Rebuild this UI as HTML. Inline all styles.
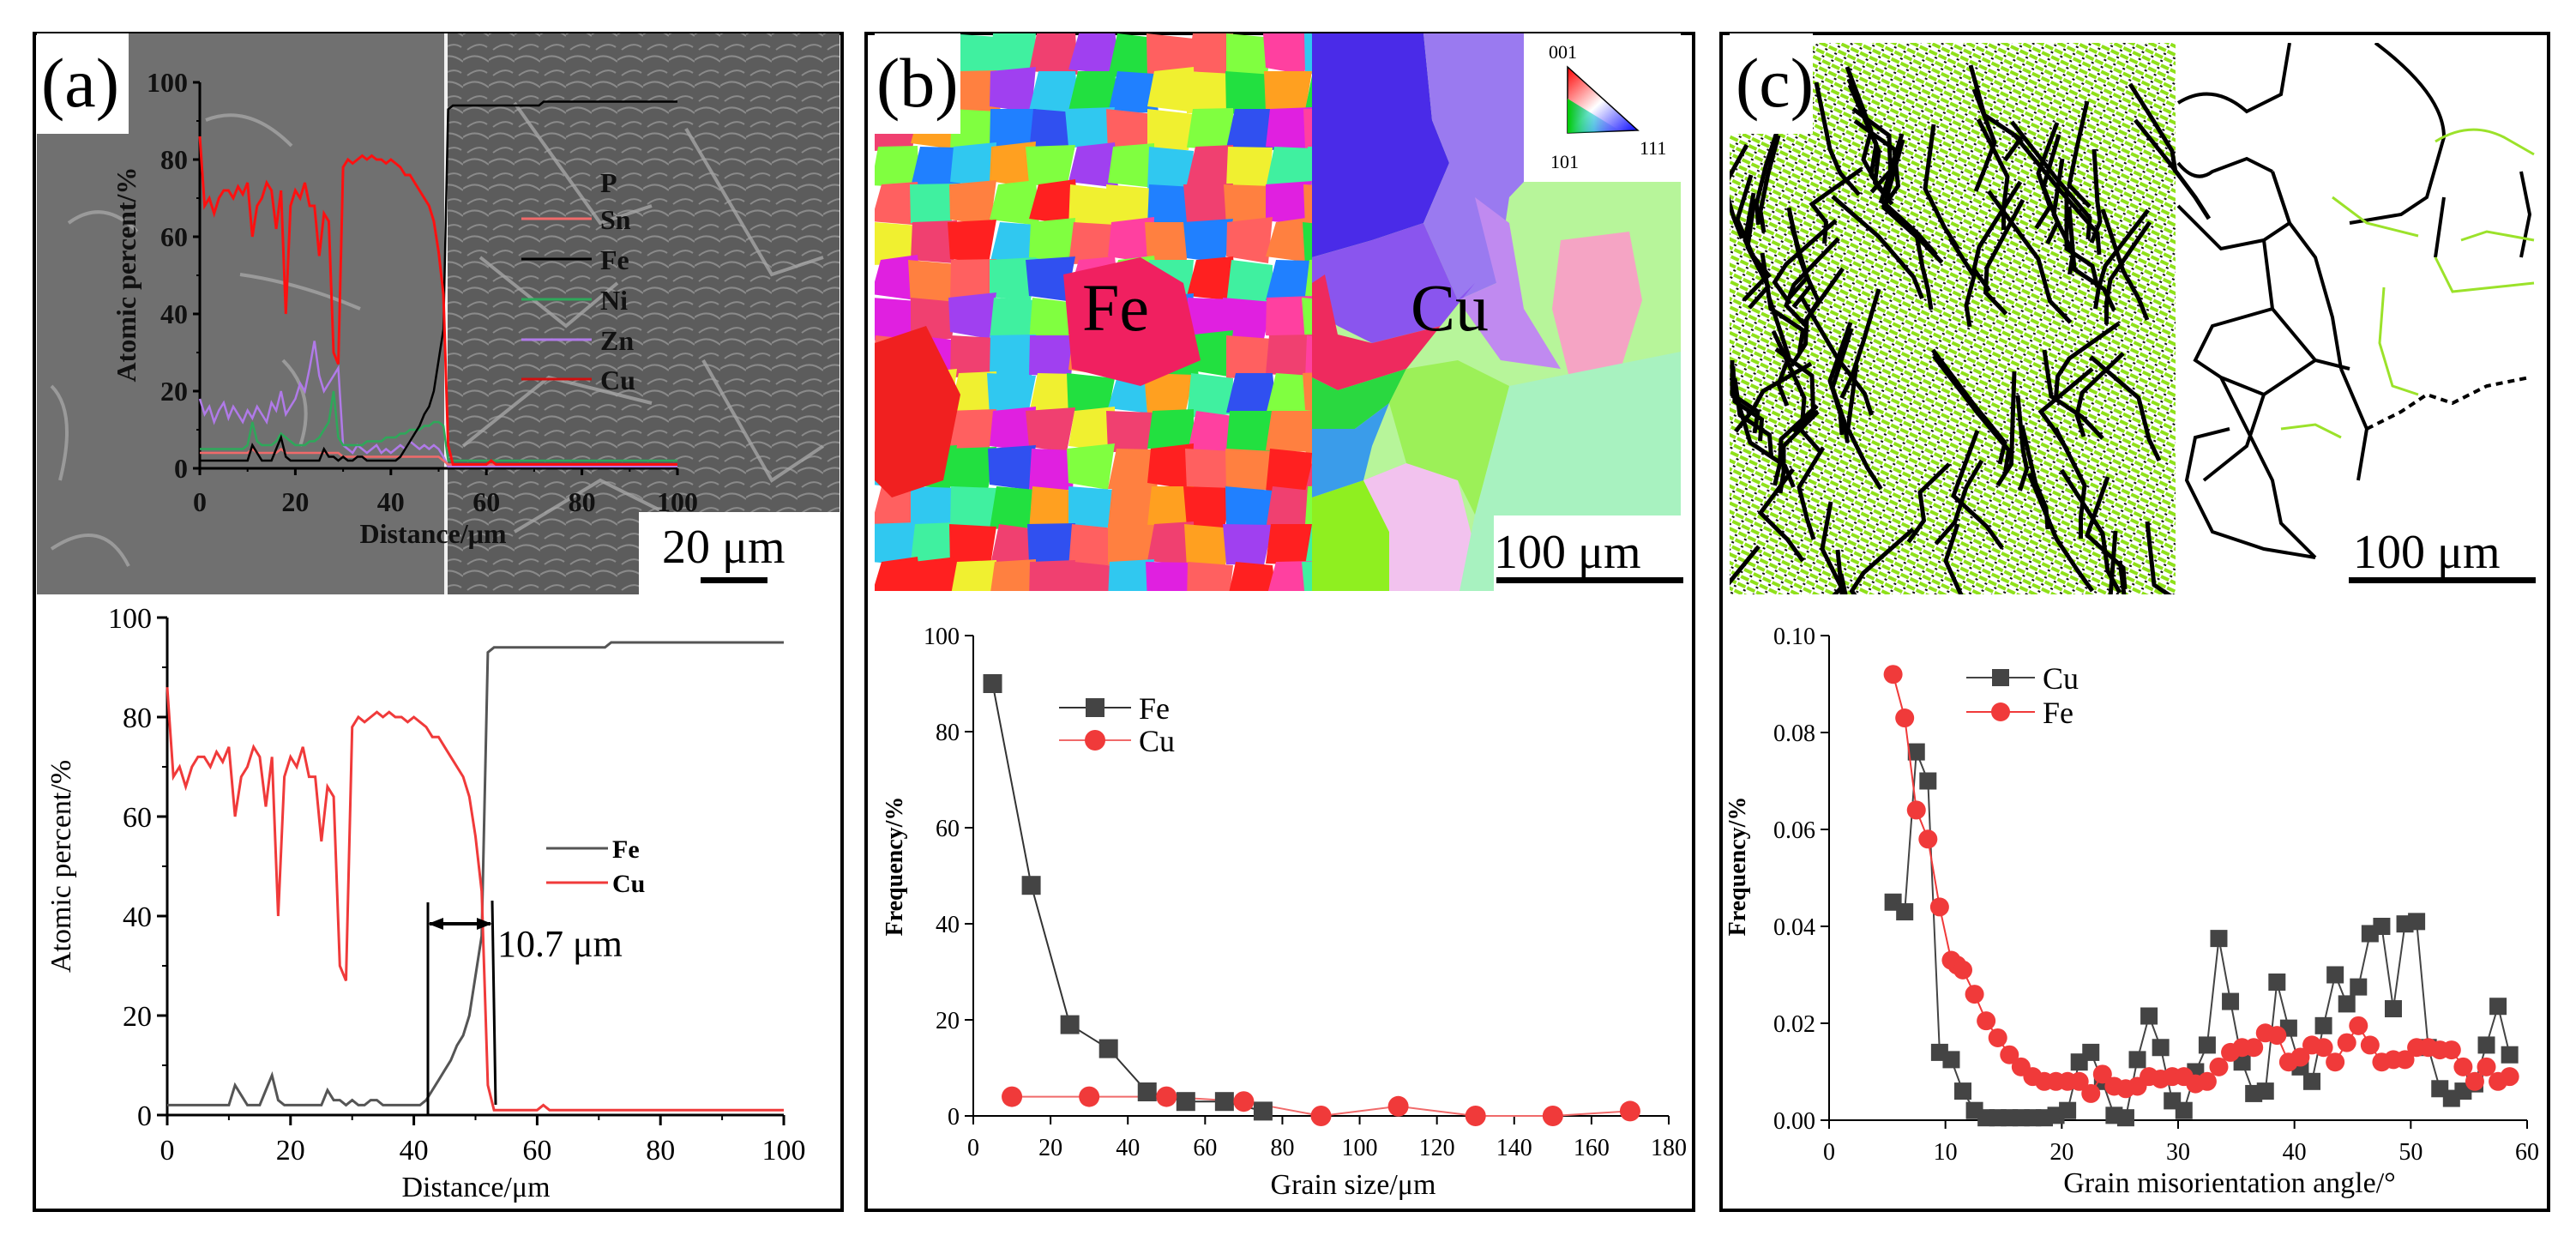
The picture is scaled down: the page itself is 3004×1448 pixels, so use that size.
<!DOCTYPE html>
<html><head><meta charset="utf-8"><style>
body{margin:0;background:#fff}
svg{display:block}
text{font-family:"Liberation Serif",serif}
</style></head><body>
<svg id="fig" width="3004" height="1448" viewBox="0 0 3004 1448" xmlns="http://www.w3.org/2000/svg">
<defs>
<clipPath id="clipA"><path d="M150 39H979V597H745V693H43V156H150Z"/></clipPath>
<clipPath id="clipB"><path d="M1120 39H1777V212H1960V601H1742V689H1020V156H1120Z"/></clipPath>
<clipPath id="clipC"><path d="M2114 50H2960V677H2739V693H2017V156H2114Z"/></clipPath>
<pattern id="greenTex" width="12" height="9" patternUnits="userSpaceOnUse" patternTransform="rotate(25)"><rect width="12" height="9" fill="#fff"/><rect x="0" y="1" width="10" height="4" fill="#8fe01a"/><rect x="9" y="6" width="3" height="2" fill="#111"/></pattern>
<pattern id="semTex" width="30" height="30" patternUnits="userSpaceOnUse"><rect width="30" height="30" fill="#5c5c5c"/><path d="M0 10 Q15 0 30 12 M5 28 Q18 18 28 25" stroke="#8a8a8a" stroke-width="2" fill="none"/></pattern>
<marker id="arrH" markerUnits="userSpaceOnUse" markerWidth="18" markerHeight="14" refX="16" refY="7" orient="auto-start-reverse"><path d="M0 0L18 7L0 14Z" fill="#000"/></marker>
</defs>

<rect x="40" y="39" width="942" height="1372" fill="none" stroke="#000" stroke-width="4"/>
<rect x="1010" y="39" width="965" height="1372" fill="none" stroke="#000" stroke-width="4"/>
<rect x="2007" y="39" width="965" height="1372" fill="none" stroke="#000" stroke-width="4"/>

<g clip-path="url(#clipA)">
<rect x="40" y="39" width="480" height="660" fill="#707070"/>
<rect x="520" y="39" width="460" height="660" fill="url(#semTex)"/>
<g fill="none" stroke="#a5a5a5" stroke-width="4" opacity="0.8">
<path d="M60 450 Q90 480 70 560"/><path d="M80 260 Q120 230 160 270"/><path d="M240 140 Q290 120 340 170"/>
<path d="M280 320 Q350 330 420 360"/><path d="M60 640 Q120 600 150 660"/><path d="M330 420 Q370 460 350 520"/>
<path d="M600 120 L700 260 L760 240"/><path d="M560 300 L660 380 L720 330"/><path d="M800 150 L900 320 L960 300"/>
<path d="M540 520 L640 440 L760 470"/><path d="M820 420 L900 560 L960 520"/><path d="M600 620 L700 560 L780 600"/>
</g>
<rect x="518" y="39" width="4" height="660" fill="#f0f0f0"/>
</g>
<rect x="43" y="39" width="107" height="117" fill="#fff"/>
<text x="48" y="124" font-size="82">(a)</text>
<rect x="745" y="597" width="234" height="96" fill="#fff"/>
<text x="772" y="656" font-size="56">20 μm</text>
<rect x="817" y="673" width="78" height="7" fill="#000"/>
<g id="insetA"></g>

<g clip-path="url(#clipB)">
<g id="ebsdFe"></g>
<rect x="1530" y="39" width="440" height="660" fill="#b7f59a"/>
<polygon points="1530,39 1660,39 1670,140 1690,190 1660,260 1600,280 1530,300" fill="#4a2be8"/>
<polygon points="1660,39 1777,39 1777,212 1760,230 1745,330 1700,350 1660,260 1690,190 1670,140" fill="#9a7af0"/>
<polygon points="1530,300 1600,280 1660,260 1700,350 1720,330 1680,380 1600,400 1560,380 1530,360" fill="#8a55ee"/>
<polygon points="1530,330 1545,320 1560,390 1600,400 1680,380 1640,430 1560,455 1530,440" fill="#ee2a5e"/>
<polygon points="1530,440 1560,455 1640,430 1620,470 1580,500 1530,500" fill="#2ad840"/>
<polygon points="1530,500 1580,500 1620,470 1600,520 1590,560 1530,580" fill="#3a9cea"/>
<polygon points="1530,580 1590,560 1620,620 1620,699 1530,699" fill="#8fef20"/>
<polygon points="1590,560 1640,540 1700,560 1720,640 1700,699 1620,699 1620,620" fill="#f2c2ee"/>
<polygon points="1720,230 1745,330 1700,350 1750,420 1820,430 1777,360 1760,260" fill="#c08af0"/>
<polygon points="1820,280 1900,270 1915,350 1890,430 1830,440 1810,360" fill="#f5a4c4"/>
<polygon points="1760,450 1960,410 1960,699 1700,699 1720,600" fill="#a8f2c0"/>
<polygon points="1640,430 1700,420 1760,450 1720,600 1700,560 1640,540 1620,470" fill="#9cf058"/>
</g>
<rect x="1020" y="39" width="100" height="117" fill="#fff"/>
<text x="1022" y="124" font-size="82">(b)</text>
<rect x="1777" y="39" width="183" height="173" fill="#fff"/>
<defs><linearGradient id="ipfG" x1="0" y1="0" x2="1" y2="1"><stop offset="0" stop-color="#f00"/><stop offset="0.5" stop-color="#fff"/><stop offset="1" stop-color="#00f"/></linearGradient>
<linearGradient id="ipfG2" x1="0" y1="0" x2="1" y2="0"><stop offset="0" stop-color="#0c0"/><stop offset="0.5" stop-color="#0cc" stop-opacity="0.5"/><stop offset="1" stop-color="#00f" stop-opacity="0"/></linearGradient></defs>
<polygon points="1828,78 1828,155 1910,152" fill="url(#ipfG)" stroke="#000" stroke-width="1.5"/>
<polygon points="1828,115 1828,155 1890,153" fill="url(#ipfG2)"/>
<text x="1806" y="68" font-size="22">001</text>
<text x="1808" y="196" font-size="22">101</text>
<text x="1912" y="180" font-size="22">111</text>
<text x="1262" y="385" font-size="78">Fe</text>
<text x="1645" y="385" font-size="78">Cu</text>
<rect x="1742" y="601" width="228" height="88" fill="#fff"/>
<text x="1742" y="662" font-size="56">100 μm</text>
<rect x="1745" y="673" width="218" height="7" fill="#000"/>

<g clip-path="url(#clipC)">
<rect x="2017" y="39" width="520" height="660" fill="url(#greenTex)"/>
<g fill="none" stroke="#000" stroke-width="5" id="cLeftLines"></g>
<g fill="none" stroke="#000" stroke-width="4">
<path d="M2540 120 Q2580 95 2620 130 L2660 110 L2670 50"/>
<path d="M2540 190 Q2560 215 2580 200 L2620 185 L2650 200"/>
<path d="M2650 200 L2670 260 L2700 300 L2720 370 L2730 430"/>
<path d="M2650 200 L2670 260 L2640 280 L2650 360 L2700 420 L2740 430"/>
<path d="M2770 50 Q2850 110 2850 160 L2830 230 L2800 250 L2740 260"/>
<path d="M2540 240 L2590 290 L2640 280"/><path d="M2700 420 L2640 460 L2620 520 L2570 560"/>
<path d="M2650 360 L2580 380 L2560 420 L2590 440 L2640 460"/>
<path d="M2590 440 L2620 500 L2650 560 L2660 610 L2700 650"/>
<path d="M2730 430 L2760 500 L2750 560"/><path d="M2850 230 L2840 300 M2940 200 L2950 250 L2940 300"/>
<path d="M2600 500 L2560 510 L2550 560 L2580 620 L2640 640 L2700 650"/>
<path d="M2760 500 L2800 480 L2830 460 L2860 470 L2900 450 L2950 440" stroke-dasharray="8 6"/>
</g>
<g fill="none" stroke="#9be22a" stroke-width="3">
<path d="M2840 165 Q2880 140 2920 160 L2955 180"/><path d="M2870 280 L2900 270 L2955 280 M2840 300 L2860 340 L2955 330"/>
<path d="M2780 335 L2775 400 L2790 450 L2820 460"/><path d="M2660 500 L2700 495 L2730 510"/><path d="M2720 230 L2760 260 L2820 275"/>
</g>
</g>
<rect x="2017" y="39" width="97" height="117" fill="#fff"/>
<text x="2024" y="124" font-size="82">(c)</text>
<text x="2744" y="662" font-size="56">100 μm</text>
<rect x="2739" y="673" width="218" height="7" fill="#000"/>

<g id="chartA"></g>
<g id="chartB"></g>
<g id="chartC"></g>
</svg>
<script>
const distA = Array.from({length:101},(_, i)=>i);
const cuA = [86,68,70,66,70,72,72,70,73,71,74,60,68,70,74,72,62,72,40,68,72,70,74,68,68,55,66,64,30,27,78,80,79,80,81,80,81,80,80,79,80,79,78,76,76,74,72,70,68,64,56,45,6,1,1,1,1,1,1,1,1,2,1,1,1,1,1,1,1,1,1,1,1,1,1,1,1,1,1,1,1,1,1,1,1,1,1,1,1,1,1,1,1,1,1,1,1,1,1,1,1];
const feA = [2,2,2,2,2,2,2,2,2,2,2,6,4,2,2,2,5,8,3,2,2,2,2,2,2,2,5,3,3,2,3,2,2,3,3,2,2,2,2,2,2,2,3,5,7,9,11,14,16,20,28,36,93,94,94,94,94,94,94,94,94,94,94,94,94,94,94,94,94,94,94,94,95,95,95,95,95,95,95,95,95,95,95,95,95,95,95,95,95,95,95,95,95,95,95,95,95,95,95,95,95];
const znA = [18,14,16,12,15,17,13,16,14,12,15,13,16,14,12,17,15,20,14,16,18,22,20,26,33,24,20,22,24,26,6,5,4,6,5,4,5,6,4,5,4,5,6,5,7,6,5,6,5,6,5,3,0.5,0.5,0.5,0.5,0.5,0.5,0.5,0.5,0.5,0.5,0.5,0.5,0.5,0.5,0.5,0.5,0.5,0.5,0.5,0.5,0.5,0.5,0.5,0.5,0.5,0.5,0.5,0.5,0.5,0.5,0.5,0.5,0.5,0.5,0.5,0.5,0.5,0.5,0.5,0.5,0.5,0.5,0.5,0.5,0.5,0.5,0.5,0.5,0.5];
const niA = [5,5,5,5,5,5,5,5,5,5,6,12,7,6,6,6,7,9,8,7,6,6,6,7,7,8,10,12,20,8,6,6,6,6,6,7,7,7,7,8,8,8,9,9,10,10,10,11,11,12,12,11,2,2,2,2,2,2,2,2,2,2,2,2,2,2,2,2,2,2,2,2,2,2,2,2,2,2,2,2,2,2,2,2,2,2,2,2,2,2,2,2,2,2,2,2,2,2,2,2,2];
const snA = [4,4,4,4,4,4,4,4,4,4,4,5,4,4,4,4,4,5,4,4,4,4,4,4,4,4,4,4,4,4,3,3,3,3,3,3,3,3,3,3,3,3,3,3,3,3,3,3,3,3,3,2,1,1,1,1,1,1,1,1,1,1,1,1,1,1,1,1,1,1,1,1,1,1,1,1,1,1,1,1,1,1,1,1,1,1,1,1,1,1,1,1,1,1,1,1,1,1,1,1,1];
const ticksA = [0,20,40,60,80,100];

const sizeFe = [5,15,25,35,45,55,65,75];
const freqFe = [90,48,19,14,5,3,3,1];
const sizeCu = [10,30,50,70,90,110,130,150,170];
const freqCu = [4,4,4,3,0,2,0,0,1];
const ticksBx = [0,20,40,60,80,100,120,140,160,180];
const ticksBy = [0,20,40,60,80,100];

const angCu = [5.5,6.5,7.5,8.5,9.5,10.5,11.5,12.5,13.5,14.5,15.5,16.5,17.5,18.5,19.5,20.5,21.5,22.5,23.5,24.5,25.5,26.5,27.5,28.5,29.5,30.5,31.5,32.5,33.5,34.5,35.5,36.5,37.5,38.5,39.5,40.5,41.5,42.5,43.5,44.5,45.5,46.5,47.5,48.5,49.5,50.5,51.5,52.5,53.5,54.5,55.5,56.5,57.5,58.5];
const misCu = [0.045,0.043,0.076,0.070,0.014,0.0125,0.006,0.002,0.0005,0.0005,0.0005,0.0005,0.0005,0.0005,0.001,0.002,0.012,0.014,0.008,0.001,0.0005,0.0125,0.0215,0.015,0.004,0.002,0.010,0.0155,0.0375,0.0245,0.012,0.0055,0.006,0.0285,0.019,0.011,0.008,0.0195,0.030,0.024,0.0275,0.0385,0.040,0.023,0.0405,0.041,0.015,0.0065,0.0045,0.006,0.0075,0.0155,0.0235,0.0135];
const angFe = [5.5,6.5,7.5,8.5,9.5,10.5,11,11.5,12.5,13.5,14.5,15.5,16.5,17.5,18.5,19.5,20.5,21.5,22.5,23.5,24.5,25.5,26.5,27.5,28.5,29.5,30.5,31.5,32.5,33.5,34.5,35.5,36.5,37.5,38.5,39.5,40.5,41.5,42.5,43.5,44.5,45.5,46.5,47.5,48.5,49.5,50.5,51.5,52.5,53.5,54.5,55.5,56.5,57.5,58.5];
const misFe = [0.092,0.083,0.064,0.058,0.044,0.033,0.032,0.031,0.026,0.0205,0.017,0.0135,0.011,0.009,0.008,0.008,0.008,0.008,0.0055,0.0095,0.007,0.0065,0.007,0.009,0.0085,0.009,0.009,0.0075,0.008,0.011,0.014,0.015,0.015,0.018,0.0175,0.012,0.013,0.0155,0.015,0.012,0.016,0.0195,0.0155,0.012,0.0125,0.0125,0.015,0.015,0.0145,0.0145,0.011,0.008,0.011,0.008,0.009];
const ticksCx = [0,10,20,30,40,50,60];
const ticksCy = [0,0.02,0.04,0.06,0.08,0.10];

const NS='http://www.w3.org/2000/svg';
function mk(parent,tag,attrs,txt){const e=document.createElementNS(NS,tag);for(const k in attrs)e.setAttribute(k,attrs[k]);if(txt!==undefined)e.textContent=txt;parent.appendChild(e);return e;}
function lin(d0,d1,r0,r1){return v=>r0+(v-d0)*(r1-r0)/(d1-d0);}
function pathOf(xs,ys,sx,sy){return xs.map((v,i)=>(i?'L':'M')+sx(v).toFixed(1)+' '+sy(ys[i]).toFixed(1)).join(' ');}

function axes(g,sx,sy,xt,yt,o){
  const x0=sx(xt[0]),x1=sx(xt[xt.length-1]),y0=sy(yt[0]),y1=sy(yt[yt.length-1]);
  const ax=mk(g,'path',{d:`M${x0} ${y1}V${y0}H${x1}`,stroke:'#000','stroke-width':o.sw||3,fill:'none'});
  
  
  xt.forEach((t,i)=>{const x=sx(t);mk(g,'line',{x1:x,x2:x,y1:y0,y2:y0+o.tl,stroke:'#000','stroke-width':o.sw||3});
    if(i<xt.length-1&&o.minor){const xm=(x+sx(xt[i+1]))/2;mk(g,'line',{x1:xm,x2:xm,y1:y0,y2:y0+o.tl/2,stroke:'#000','stroke-width':2});}
    const tx=mk(g,'text',{x:x,y:y0+o.fs+18,'font-size':o.fs,'text-anchor':'middle',fill:o.col||'#000','font-weight':o.fw||'normal'},o.fmtx?o.fmtx(t):t);
    
    });
  yt.forEach((t,i)=>{const y=sy(t);mk(g,'line',{x1:x0-o.tl,x2:x0,y1:y,y2:y,stroke:'#000','stroke-width':o.sw||3});
    if(i<yt.length-1&&o.minor){const ym=(y+sy(yt[i+1]))/2;mk(g,'line',{x1:x0-o.tl/2,x2:x0,y1:ym,y2:ym,stroke:'#000','stroke-width':2});}
    const tx=mk(g,'text',{x:x0-o.tl-6,y:y+o.fs*0.35,'font-size':o.fs,'text-anchor':'end',fill:o.col||'#000','font-weight':o.fw||'normal'},o.fmty?o.fmty(t):t);
    
    });
}

(function(){
  const g=document.getElementById('chartA');
  const sx=lin(0,100,195,914), sy=lin(0,100,1300,720);
  axes(g,sx,sy,ticksA,ticksA,{id:'chart-a',tl:12,fs:34,minor:true});
  const fe=mk(g,'path',{d:pathOf(distA,feA,sx,sy),stroke:'#555',fill:'none','stroke-width':3});
  
  
  const cu=mk(g,'path',{d:pathOf(distA,cuA,sx,sy),stroke:'#f03a3a',fill:'none','stroke-width':3});
  
  
  const yl=mk(g,'text',{transform:'translate(82 1010) rotate(-90)','font-size':34,'text-anchor':'middle'},'Atomic percent/%');
  
  
  const xl=mk(g,'text',{x:555,y:1395,'font-size':34,'text-anchor':'middle'},'Distance/μm');
  
  
  [['Fe','#555',989],['Cu','#f03a3a',1029]].forEach(([n,c,y])=>{
    const l=mk(g,'line',{x1:637,x2:709,y1:y,y2:y,stroke:c,'stroke-width':3});
    
    
    const t=mk(g,'text',{x:714,y:y+11,'font-size':30,'font-weight':'bold'},n);
    
    
  });
  mk(g,'line',{x1:499,x2:499,y1:1052,y2:1300,stroke:'#000','stroke-width':3});
  mk(g,'line',{x1:574,x2:578,y1:1050,y2:1288,stroke:'#000','stroke-width':3});
  const ar=mk(g,'line',{x1:501,x2:572,y1:1077,y2:1077,stroke:'#000','stroke-width':4,'marker-start':'url(#arrH)','marker-end':'url(#arrH)'});
  
  
  const at=mk(g,'text',{x:580,y:1115,'font-size':44},'10.7 μm');
  
  
})();

(function(){
  const g=document.getElementById('insetA');
  const sx=lin(0,100,233,790), sy=lin(0,100,546,96);
  axes(g,sx,sy,ticksA,ticksA,{id:'inset',tl:8,fs:32,fw:'bold',col:'#111',minor:true});
  [[znA,'#b07ae8','zn'],[niA,'#2ea85a','ni'],[snA,'#f06a6a','sn'],[feA,'#000','fe'],[cuA,'#ff1010','cu']].forEach(([d,c,n])=>{
    const p=mk(g,'path',{d:pathOf(distA,d,sx,sy),stroke:c,fill:'none','stroke-width':n==='cu'?3:2.5});
    
    
  });
  const yl=mk(g,'text',{transform:'translate(158 320) rotate(-90)','font-size':32,'font-weight':'bold','text-anchor':'middle',fill:'#111'},'Atomic percent/%');
  
  
  const xl=mk(g,'text',{x:505,y:633,'font-size':32,'font-weight':'bold','text-anchor':'middle',fill:'#111'},'Distance/μm');
  
  
  [['P',null,212],['Sn','#f06a6a',255],['Fe','#000',302],['Ni','#2ea85a',349],['Zn','#b07ae8',396],['Cu','#d01010',442]].forEach(([n,c,y])=>{
    if(c){const l=mk(g,'line',{x1:608,x2:690,y1:y,y2:y,stroke:c,'stroke-width':3});
      
      }
    const t=mk(g,'text',{x:700,y:y+12,'font-size':32,'font-weight':'bold',fill:'#111'},n);
    
    
  });
})();

(function(){
  const g=document.getElementById('chartB');
  const sx=lin(0,180,1135,1946), sy=lin(0,100,1301,741);
  axes(g,sx,sy,ticksBx,ticksBy,{id:'chart-b',tl:10,fs:28,sw:2});
  const lf=mk(g,'path',{d:pathOf(sizeFe,freqFe,sx,sy),stroke:'#333',fill:'none','stroke-width':2});
  
  
  const lc=mk(g,'path',{d:pathOf(sizeCu,freqCu,sx,sy),stroke:'#f06a6a',fill:'none','stroke-width':2});
  
  
  sizeFe.forEach((v,i)=>{const m=mk(g,'rect',{x:sx(v)-11,y:sy(freqFe[i])-11,width:22,height:22,fill:'#444'});
    
    });
  sizeCu.forEach((v,i)=>{const m=mk(g,'circle',{cx:sx(v),cy:sy(freqCu[i]),r:12,fill:'#f03a3a'});
    
    });
  const yl=mk(g,'text',{transform:'translate(1052 1010) rotate(-90)','font-size':28,'font-weight':'bold','text-anchor':'middle'},'Frequency/%');
  
  
  const xl=mk(g,'text',{x:1578,y:1392,'font-size':34,'text-anchor':'middle'},'Grain size/μm');
  
  
  mk(g,'line',{x1:1235,x2:1319,y1:825,y2:825,stroke:'#333','stroke-width':2});
  mk(g,'rect',{x:1266,y:814,width:22,height:22,fill:'#444'});
  const t1=mk(g,'text',{x:1328,y:838,'font-size':36},'Fe');
  
  
  mk(g,'line',{x1:1235,x2:1319,y1:863,y2:863,stroke:'#f06a6a','stroke-width':2});
  mk(g,'circle',{cx:1277,cy:863,r:12,fill:'#f03a3a'});
  const t2=mk(g,'text',{x:1328,y:876,'font-size':36},'Cu');
  
  
})();

(function(){
  const g=document.getElementById('chartC');
  const sx=lin(0,60,2133,2947), sy=lin(0,0.10,1306,741);
  axes(g,sx,sy,ticksCx,ticksCy,{id:'chart-c',tl:10,fs:28,sw:2,fmty:v=>v.toFixed(2)});
  const lc=mk(g,'path',{d:pathOf(angCu,misCu,sx,sy),stroke:'#444',fill:'none','stroke-width':2});
  
  
  angCu.forEach((v,i)=>{const m=mk(g,'rect',{x:sx(v)-10,y:sy(misCu[i])-10,width:20,height:20,fill:'#444'});
    
    });
  const lf=mk(g,'path',{d:pathOf(angFe,misFe,sx,sy),stroke:'#f03a3a',fill:'none','stroke-width':2});
  
  
  angFe.forEach((v,i)=>{const m=mk(g,'circle',{cx:sx(v),cy:sy(misFe[i]),r:11,fill:'#f03a3a'});
    
    });
  const yl=mk(g,'text',{transform:'translate(2035 1010) rotate(-90)','font-size':28,'font-weight':'bold','text-anchor':'middle'},'Frequency/%');
  
  
  const xl=mk(g,'text',{x:2600,y:1390,'font-size':34,'text-anchor':'middle'},'Grain misorientation angle/°');
  
  
  mk(g,'line',{x1:2293,x2:2373,y1:790,y2:790,stroke:'#444','stroke-width':2});
  mk(g,'rect',{x:2323,y:780,width:20,height:20,fill:'#444'});
  const t1=mk(g,'text',{x:2382,y:803,'font-size':36},'Cu');
  
  
  mk(g,'line',{x1:2293,x2:2373,y1:830,y2:830,stroke:'#f03a3a','stroke-width':2});
  mk(g,'circle',{cx:2333,cy:830,r:11,fill:'#f03a3a'});
  const t2=mk(g,'text',{x:2382,y:843,'font-size':36},'Fe');
  
  
})();

(function(){
  const g=document.getElementById('ebsdFe');
  const pal=['#ff2020','#22e040','#3050f0','#ff40a0','#ffa020','#30c8f0','#a040f0','#f0f030','#ff6060','#40f0a0','#2080ff','#ff8040','#e020e0','#80ff40','#f04070'];
  let s=7;
  for(let y=39;y<700;y+=44){for(let x=1020;x<1535;x+=46){
    s=(s*73+31)%997;
    const c=pal[s%pal.length];const dx=(s%17)-8,dy=(s%13)-6;
    mk(g,'polygon',{points:`${x+dx},${y} ${x+50},${y+dy} ${x+48+dx},${y+48} ${x-4},${y+46+dy}`,fill:c});
  }}
  mk(g,'polygon',{points:'1240,320 1330,300 1380,330 1400,420 1330,450 1250,430',fill:'#f02060'});
  mk(g,'polygon',{points:'1020,400 1080,380 1120,460 1100,560 1040,580 1020,560',fill:'#f02020'});
})();

(function(){
  const g=document.getElementById('cLeftLines');
  let s=11;
  for(let i=0;i<90;i++){
    s=(s*97+13)%1009;
    const x=2020+(s%510), y=50+((s*7)%640);
    const x2=x+((s%60)-30)*2, y2=y+30+(s%50);
    const x3=x2+((s%40)-10)*1.5, y3=y2+20+(s%30);
    const x4=x3+((s%25)-12)*2, y4=y3+25;
    mk(g,'path',{d:`M${x} ${y} L${x2} ${y2} L${x3} ${y3} L${x4} ${y4}`});
  }
})();
</script>
</body></html>
